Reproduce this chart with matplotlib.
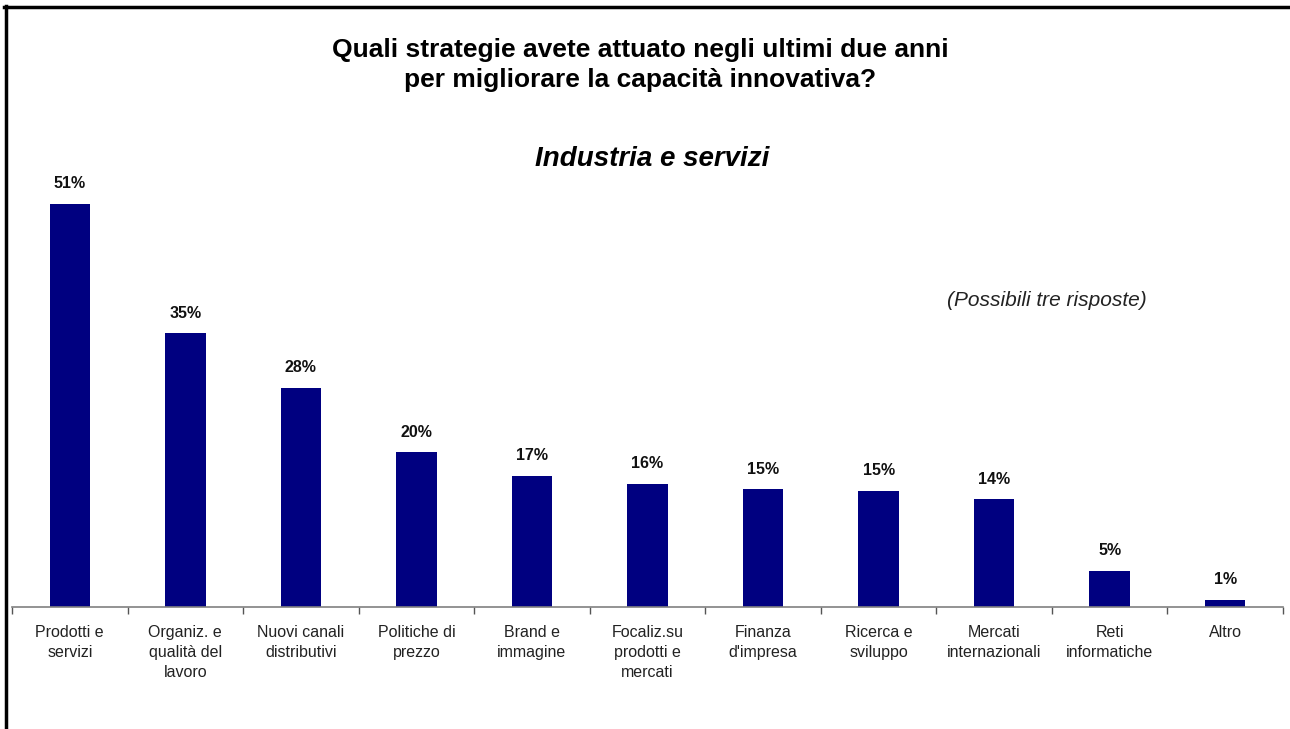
import matplotlib
matplotlib.use("Agg")
import matplotlib.pyplot as plt
from matplotlib.lines import Line2D

plt.rcParams['font.family'] = ['Liberation Sans', 'DejaVu Sans']

categories = ["Prodotti e\nservizi", "Organiz. e\nqualità del\nlavoro", "Nuovi canali\ndistributivi",
              "Politiche di\nprezzo", "Brand e\nimmagine", "Focaliz.su\nprodotti e\nmercati",
              "Finanza\nd'impresa", "Ricerca e\nsviluppo", "Mercati\ninternazionali",
              "Reti\ninformatiche", "Altro"]
values = [51.0, 34.6, 27.7, 19.6, 16.6, 15.6, 14.9, 14.7, 13.6, 4.6, 0.9]

W, H = 1290, 729
fig = plt.figure(figsize=(W/100, H/100), dpi=100)
ax = fig.add_axes([12/W, 1-607/H, (1283-12)/W, (607-180)/H])

x = list(range(len(categories)))
ax.bar(x, values, width=0.35, color='#000080', zorder=2)
for xi, v in zip(x, values):
    ax.annotate(f"{v:.0f}%", (xi, v), xytext=(0, 9), textcoords='offset points',
                ha='center', va='bottom', fontsize=11.5, fontweight='bold', color='#111111')

ax.set_xlim(-0.5, len(categories)-0.5)
ax.set_ylim(0, 54)
ax.set_xticks([i-0.5 for i in range(len(categories)+1)])
ax.set_xticklabels([])
ax.set_xticks(x, minor=True)
ax.set_xticklabels(categories, minor=True, fontsize=11.5, color='#222222', linespacing=1.4)
ax.tick_params(axis='x', which='major', length=5, width=1, color='#555555', direction='out')
ax.tick_params(axis='x', which='minor', length=0, pad=13)
ax.set_yticks([])
for s in ['top', 'right', 'left']:
    ax.spines[s].set_visible(False)
ax.spines['bottom'].set_color('#808080')
ax.spines['bottom'].set_linewidth(1.2)

fig.text(640/W, 1-65/H, "Quali strategie avete attuato negli ultimi due anni\nper migliorare la capacità innovativa?",
         ha='center', va='center', fontsize=19, fontweight='bold', linespacing=1.3)
fig.text(652/W, 1-159/H, "Industria e servizi", ha='center', va='center', fontsize=20,
         fontweight='bold', fontstyle='italic')
fig.text(1047/W, 1-300/H, "(Possibili tre risposte)", ha='center', va='center', fontsize=15,
         fontstyle='italic', color='#222222')

fig.add_artist(Line2D([5.5/W, 5.5/W], [0, 1-6/H], transform=fig.transFigure, color='black', lw=2.5))
fig.add_artist(Line2D([4.3/W, 1], [1-6.5/H, 1-6.5/H], transform=fig.transFigure, color='black', lw=2.5))

fig.savefig("out.png", dpi=100)
